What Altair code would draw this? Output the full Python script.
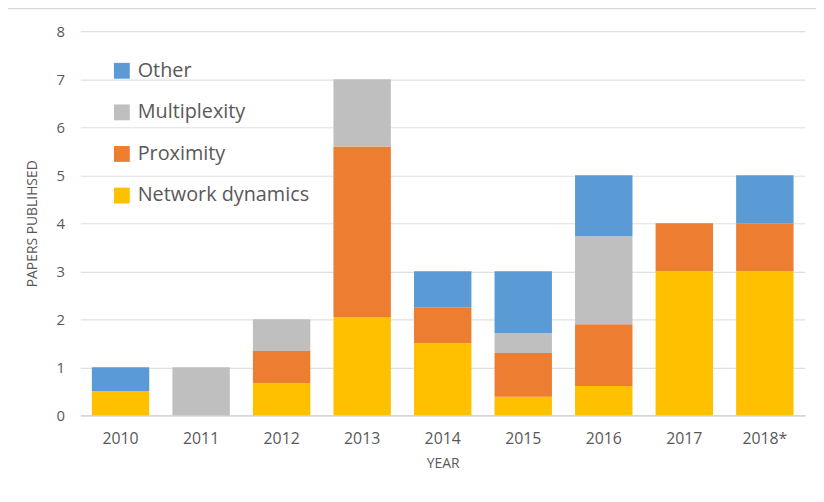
import altair as alt
import pandas as pd

years = ["2010", "2011", "2012", "2013", "2014", "2015", "2016", "2017", "2018*"]
series = ["Network dynamics", "Proximity", "Multiplexity", "Other"]
network_dynamics = [0.5, 0.0, 0.67, 2.05, 1.5, 0.39, 0.61, 3.0, 3.0]
proximity = [0.0, 0.0, 0.67, 3.55, 0.75, 0.91, 1.29, 1.0, 1.0]
multiplexity = [0.0, 1.0, 0.66, 1.4, 0.0, 0.41, 1.83, 0.0, 0.0]
other = [0.5, 0.0, 0.0, 0.0, 0.75, 1.29, 1.27, 0.0, 1.0]
colors = ["#FFC000", "#ED7D31", "#BFBFBF", "#5B9BD5"]

rows = []
for i, y in enumerate(years):
    for k, (name, vals) in enumerate(zip(series, [network_dynamics, proximity, multiplexity, other])):
        if vals[i] > 0:
            rows.append({"year": y, "series": name, "value": vals[i], "order": k})
df = pd.DataFrame(rows)

legend_order = ["Other", "Multiplexity", "Proximity", "Network dynamics"]
color_map = dict(zip(series, colors))

FONT = "Open Sans"
TXT = "#595959"

bars = alt.Chart(df).mark_bar(stroke=None).encode(
    x=alt.X("year:N", sort=years, title="YEAR",
            scale=alt.Scale(paddingInner=0.287, paddingOuter=0.1435),
            axis=alt.Axis(labelAngle=0, labelFontSize=16, labelColor=TXT, labelFont=FONT,
                          labelBaseline="middle", labelPadding=23, tickSize=0, ticks=False,
                          domainColor="#D0D0D0", domainWidth=1.2,
                          titleFontSize=14, titleFont=FONT, titleColor=TXT, titleFontWeight="normal",
                          titleY=49, titleBaseline="middle")),
    y=alt.Y("value:Q", stack="zero", title="PAPERS PUBLIHSED",
            scale=alt.Scale(domain=[0, 8], nice=False),
            axis=alt.Axis(values=[0, 1, 2, 3, 4, 5, 6, 7, 8], labelFontSize=15, labelColor=TXT,
                          labelFont=FONT, labelPadding=16, tickSize=0, ticks=False, domain=False,
                          gridColor="#E0E0E0", gridWidth=1.2,
                          titleFontSize=14, titleFont=FONT, titleColor=TXT, titleFontWeight="normal",
                          titleX=-48, titleY=194, titleAngle=-90, titleAlign="center",
                          titleBaseline="middle")),
    color=alt.Color("series:N",
                    scale=alt.Scale(domain=legend_order, range=[color_map[s] for s in legend_order]),
                    legend=alt.Legend(title=None, orient="none", legendX=32, legendY=30,
                                      symbolType="square", symbolSize=256, symbolStrokeWidth=0,
                                      labelFontSize=20, labelFont=FONT, labelColor=TXT,
                                      labelLimit=0, labelOffset=6, rowPadding=22, padding=0)),
    order=alt.Order("order:Q", sort="ascending"),
)

frame = alt.Chart(pd.DataFrame({"a": [0]})).mark_rect(
    fill=None, stroke="#D9D9D9", strokeWidth=1.5
).encode(x=alt.value(-76), x2=alt.value(780), y=alt.value(-23), y2=alt.value(500))

chart = alt.layer(frame, bars).properties(
    width=732, height=388,
    autosize=alt.AutoSizeParams(type="none"),
    padding={"left": 73, "top": 21, "right": 11, "bottom": 77},
).configure_view(stroke=None)

chart.save("out.html", embed_options={"renderer": "svg", "actions": False})
